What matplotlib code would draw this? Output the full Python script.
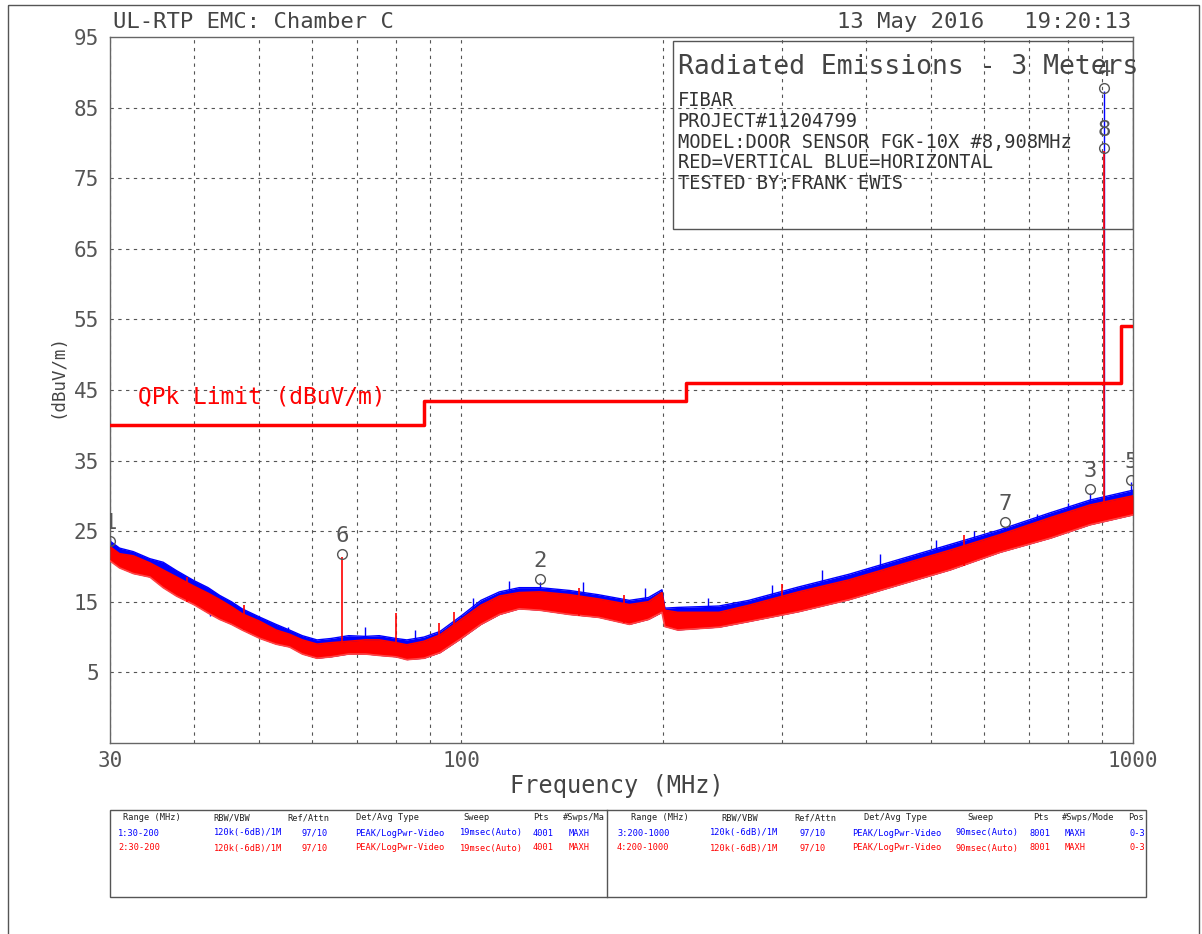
import matplotlib
matplotlib.use('Agg')
import matplotlib.pyplot as plt
from matplotlib.patches import Rectangle

plt.rcParams['font.family'] = ['DejaVu Sans Mono']

# noise floor envelope (MHz, dBuV/m)
freq = [30, 31, 32.5, 34.4, 36, 37.7, 40, 42, 43.7, 45.5, 47.2, 50.2, 53, 55.5,
        58, 61, 64, 68, 72, 75.5, 80, 83, 88, 93, 100, 107, 114, 122, 131, 145,
        160, 178, 190, 199, 201, 210, 242, 268, 318, 378, 449, 534, 634, 753,
        863, 1000]
red_hi = [22.8, 21.8, 21.5, 20.5, 19.5, 18.5, 17.2, 16.2, 15.3, 14.3, 13.3, 12.2,
          11.0, 10.4, 9.6, 9.0, 9.2, 9.4, 9.6, 9.6, 9.2, 8.9, 9.4, 10.3, 12.5,
          14.5, 15.8, 16.3, 16.4, 16.0, 15.4, 14.6, 15.0, 16.3, 13.8, 13.5, 13.5,
          14.5, 16.4, 18.1, 20.2, 22.3, 24.5, 26.9, 28.7, 30.0]
red_lo = [20.8, 19.8, 19.0, 18.5, 17.0, 15.8, 14.6, 13.4, 12.5, 11.8, 11.0, 9.8,
          9.0, 8.6, 7.6, 7.0, 7.2, 7.6, 7.6, 7.4, 7.2, 6.8, 7.0, 7.8, 9.8, 11.8,
          13.2, 14.0, 13.8, 13.2, 12.8, 11.8, 12.5, 13.5, 11.5, 11.0, 11.4, 12.2,
          13.6, 15.3, 17.4, 19.5, 22.0, 24.0, 25.9, 27.3]
blue_hi = [23.6, 22.6, 22.1, 21.1, 20.6, 19.4, 18.0, 17.0, 15.9, 15.0, 14.0, 12.8,
           11.8, 11.0, 10.2, 9.6, 9.8, 10.2, 10.1, 10.2, 9.8, 9.6, 10.0, 10.8,
           13.0, 15.2, 16.4, 17.0, 17.0, 16.6, 16.0, 15.2, 15.6, 16.7, 14.1, 14.2,
           14.4, 15.2, 17.1, 18.9, 21.0, 23.1, 25.2, 27.6, 29.4, 30.8]

# single spikes: frequency, top, foot (MHz, dBuV/m)
blue_spike_f = [30.0, 36.6, 42.3, 55.2, 72.0, 85.5, 104, 118, 131, 152, 188, 233,
                290, 345, 420, 510, 580, 645, 720, 800, 864, 906, 995]
blue_spike_db = [24.0, 20.0, 14.6, 11.4, 11.4, 11.0, 15.5, 18.0, 17.8, 17.8, 17.0,
                 15.6, 17.4, 19.5, 21.8, 23.8, 25.0, 25.6, 27.5, 29.0, 30.4, 87.4, 32.0]
blue_spike_base = [21, 17.5, 13, 9.5, 9, 8.5, 13, 15, 15, 14.5, 14, 12.5, 14, 16,
                   19, 21, 22.5, 23.5, 25, 26, 27, 28, 29.5]
red_spike_f = [39.0, 47.5, 66.4, 80.0, 92.6, 97.6, 150, 175, 300, 560, 906]
red_spike_db = [18.5, 14.5, 21.3, 13.4, 12.0, 13.6, 17.0, 16.0, 17.5, 24.5, 78.8]
red_spike_base = [15, 11, 8.5, 8, 9, 10, 13, 12, 14, 20, 27]

# QPk limit steps
limit_f = [30, 88, 216, 960, 1000]
limit_db = [40, 43.5, 46, 54, 54]

# markers
mk_labels = ['1', '6', '2', '7', '3', '5', '4', '8']
mk_freq = [30.0, 66.4, 131, 645, 864, 995, 906, 906]
mk_level = [23.6, 21.8, 18.2, 26.3, 31.0, 32.3, 87.8, 79.2]

info_lines = ['FIBAR', 'PROJECT#11204799', 'MODEL:DOOR SENSOR FGK-10X #8,908MHz',
              'RED=VERTICAL BLUE=HORIZONTAL', 'TESTED BY:FRANK EWIS']

tbl_head = ['Range (MHz)', 'RBW/VBW', 'Ref/Attn', 'Det/Avg Type', 'Sweep', 'Pts']
tbl_rows_left = [['1:30-200', '120k(-6dB)/1M', '97/10', 'PEAK/LogPwr-Video', '19msec(Auto)', '4001', 'MAXH'],
                 ['2:30-200', '120k(-6dB)/1M', '97/10', 'PEAK/LogPwr-Video', '19msec(Auto)', '4001', 'MAXH']]
tbl_rows_right = [['3:200-1000', '120k(-6dB)/1M', '97/10', 'PEAK/LogPwr-Video', '90msec(Auto)', '8001', 'MAXH', '0-3'],
                  ['4:200-1000', '120k(-6dB)/1M', '97/10', 'PEAK/LogPwr-Video', '90msec(Auto)', '8001', 'MAXH', '0-3']]

fig = plt.figure(figsize=(12.02, 9.34), dpi=100)

# overlay in pixel coordinates for frame, headers and settings table
ov = fig.add_axes([0, 0, 1, 1])
ov.set_xlim(0, 1202)
ov.set_ylim(934, 0)
ov.axis('off')
ov.add_patch(Rectangle((8, 5), 1191, 940, fill=False, ec='#555', lw=1))
ov.text(113, 22, 'UL-RTP EMC: Chamber C', fontsize=16, color='#444', va='center')
ov.text(1131, 22, '13 May 2016   19:20:13', fontsize=16, color='#444', va='center', ha='right')
ov.text(57, 376, '(dBuV/m)', fontsize=12.5, color='#444', rotation=90, ha='center', va='center')
ov.text(617, 786, 'Frequency (MHz)', fontsize=17, color='#444', ha='center', va='center')

ov.add_patch(Rectangle((110, 810), 1036, 87, fill=False, ec='#555', lw=1))
ov.plot([607, 607], [810, 897], color='#555', lw=1)
fs = 6.2
head_x_left = [152, 232, 308, 387, 476, 541]
head_x_right = [660, 740, 815, 895, 980, 1041]
for h, xl, xr in zip(tbl_head, head_x_left, head_x_right):
    ov.text(xl, 818, h, fontsize=fs, ha='center', va='center', color='#222')
    ov.text(xr, 818, h, fontsize=fs, ha='center', va='center', color='#222')
ov.text(563, 818, '#Swps/Ma', fontsize=fs, va='center', color='#222')
ov.text(1062, 818, '#Swps/Mode', fontsize=fs, va='center', color='#222')
ov.text(1128, 818, 'Pos', fontsize=fs, va='center', color='#222')
row_x_left = [118, 214, 302, 355, 460, 533, 569]
row_x_right = [617, 710, 800, 852, 955, 1030, 1065, 1130]
for row, y, c in zip(tbl_rows_left, [833, 848], ['#0000ff', '#ff0000']):
    for s, x in zip(row, row_x_left):
        ov.text(x, y, s, fontsize=fs, va='center', color=c)
for row, y, c in zip(tbl_rows_right, [833, 848], ['#0000ff', '#ff0000']):
    for s, x in zip(row, row_x_right):
        ov.text(x, y, s, fontsize=fs, va='center', color=c)

# main plot
ax = fig.add_axes([0.0915, 0.2045, 0.851, 0.756])
ax.set_xscale('log')
ax.set_xlim(30, 1000)
ax.set_ylim(-5, 95)
ax.set_xticks([30, 100, 1000])
ax.set_xticklabels(['30', '100', '1000'])
ax.set_xticks([40, 50, 60, 70, 80, 90, 200, 300, 400, 500, 600, 700, 800, 900], minor=True)
ax.xaxis.set_minor_formatter(plt.NullFormatter())
ax.set_yticks([5, 15, 25, 35, 45, 55, 65, 75, 85, 95])
ax.tick_params(length=0, which='both', labelsize=15, labelcolor='#555')
ax.tick_params(axis='y', pad=8)
ax.tick_params(axis='x', pad=6)
for s in ax.spines.values():
    s.set_color('#666')
    s.set_linewidth(1)
ax.grid(True, which='both', axis='x', ls=(0, (3, 4)), color='#555', lw=0.8)
for v in [5, 15, 25, 35, 45, 55, 65, 75, 85]:
    ax.axhline(v, ls=(0, (3, 4)), color='#555', lw=0.8, zorder=1)

ax.fill_between(freq, red_lo, blue_hi, color='#0000ff', lw=0, zorder=2)
ax.plot(freq, blue_hi, color='#0000ff', lw=1, zorder=2)
ax.vlines(blue_spike_f, blue_spike_base, blue_spike_db, color='#0000ff', lw=1, zorder=2)
ax.fill_between(freq, red_lo, red_hi, color='#ff0000', lw=0, zorder=3)
ax.plot(freq, red_hi, color='#ff0000', lw=1.2, zorder=3)
ax.plot(freq, red_lo, color='#ff4444', lw=1.2, zorder=3)
ax.vlines(red_spike_f, red_spike_base, red_spike_db, color='#ff0000', lw=1.2, zorder=5)

ax.plot(limit_f, limit_db, drawstyle='steps-post', color='#ff0000', lw=2.5, zorder=6)
ax.text(33.0, 44.0, 'QPk Limit (dBuV/m)', color='#ff0000', fontsize=16.5, va='center', zorder=6)

ax.plot(mk_freq, mk_level, ls='none', marker='o', ms=7, mfc='none', mec='#555', mew=1, zorder=7)
for lab, f, lv in zip(mk_labels, mk_freq, mk_level):
    ax.annotate(lab, (f, lv), xytext=(0, 13), textcoords='offset points',
                ha='center', va='center', fontsize=16, color='#555', zorder=7,
                annotation_clip=False, clip_on=True)

# info box
ax.add_patch(Rectangle((0.55, 0.728), 0.45, 0.266, transform=ax.transAxes,
                       fill=False, ec='#555', lw=1, zorder=8))
ax.text(0.555, 0.958, 'Radiated Emissions - 3 Meters', transform=ax.transAxes,
        fontsize=19, color='#444', va='center', zorder=8)
for i, line in enumerate(info_lines):
    ax.text(0.555, 0.910 - i * 0.0295, line, transform=ax.transAxes,
            fontsize=13.5, color='#333', va='center', zorder=8)

fig.savefig('out.png', dpi=100)
